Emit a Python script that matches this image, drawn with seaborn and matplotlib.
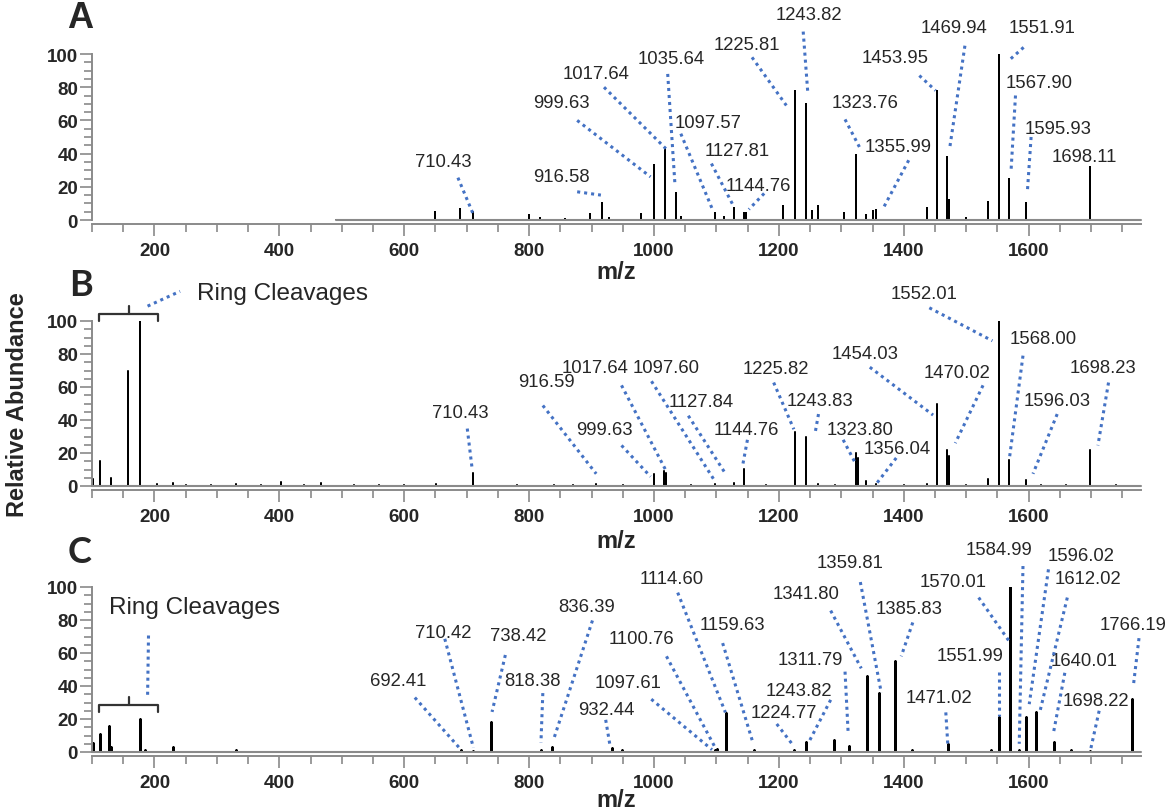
import pandas as pd
import seaborn as sns
import matplotlib.pyplot as plt
from matplotlib.ticker import MultipleLocator

sns.set_style("ticks")
plt.rcParams['font.family'] = ['Liberation Sans', 'DejaVu Sans']

# ---------------- data ----------------
x_major = [200, 400, 600, 800, 1000, 1200, 1400, 1600]
x_tick_labels = ['200', '400', '600', '800', '1000', '1200', '1400', '1600']
y_major = [0, 20, 40, 60, 80, 100]
y_tick_labels = ['0', '20', '40', '60', '80', '100']

# panel A peaks (m/z, relative abundance)
a_mz = [649, 690, 710.43, 800, 818, 857, 898, 916.58, 928, 980, 999.63, 1017.64,
        1035.64, 1043, 1097.57, 1112, 1127.81, 1144.76, 1147, 1207, 1225.81, 1243.82,
        1253, 1262, 1305, 1323.76, 1340, 1350, 1355.99, 1437, 1453.95, 1469.94, 1472,
        1500, 1535, 1551.91, 1567.90, 1595.93, 1698.11]
a_int = [4.8, 6.4, 5, 3, 1, 0.5, 3.4, 10.4, 1, 3.4, 33, 43,
         16, 2, 4, 2, 7, 4.5, 4, 8.5, 78, 70,
         5.6, 8.5, 4.4, 39, 3, 5.4, 6, 7, 78, 38, 12,
         1, 11, 100, 25, 10, 32]
a_labels = ['710.43', '916.58', '999.63', '1017.64', '1035.64', '1097.57', '1127.81',
            '1144.76', '1225.81', '1243.82', '1323.76', '1355.99', '1453.95', '1469.94',
            '1551.91', '1567.90', '1595.93', '1698.11']

# panel B peaks
b_mz = [102, 112.5, 130, 158.4, 177.4, 204, 230, 250, 290, 330, 370, 403, 440, 466,
        520, 560, 600, 651, 710.43, 780, 840, 870, 907, 950, 999.63, 1016.5, 1019.5,
        1060, 1097.60, 1127.84, 1144.76, 1180, 1225.82, 1243.83, 1262, 1290, 1323.80,
        1326, 1340, 1356.04, 1400, 1437, 1454.03, 1470.02, 1473, 1500, 1535, 1552.01,
        1568.00, 1596.03, 1620, 1660, 1698.23, 1740]
b_int = [4, 15, 5, 70, 100, 1, 2, 0.6, 0.6, 1.5, 0.6, 2.5, 0.6, 2,
         0.6, 0.6, 0.6, 1, 8, 0.6, 0.6, 0.6, 1, 0.6, 7, 9, 8,
         0.6, 1, 2, 10.5, 0.6, 33, 30, 1.5, 0.6, 20,
         17, 3.3, 1, 0.6, 1, 50, 22, 18, 0.6, 4.3, 100,
         15.5, 3.7, 0.6, 0.6, 22, 0.6]
b_labels = ['710.43', '916.59', '999.63', '1017.64', '1097.60', '1127.84', '1144.76',
            '1225.82', '1243.83', '1323.80', '1356.04', '1454.03', '1470.02', '1552.01',
            '1568.00', '1596.03', '1698.23']

# panel C peaks
c_mz = [102, 112.5, 127, 130, 177.4, 185, 230, 330, 690.5, 710.42, 738.42, 818.38,
        836.39, 932.44, 949, 1097.61, 1100.76, 1114.60, 1159.63, 1224.77, 1243.82, 1288,
        1311.79, 1341.80, 1359.81, 1385.83, 1414, 1471.02, 1540, 1551.99, 1570.01,
        1584.99, 1596.02, 1612.02, 1640.01, 1668, 1698.22, 1766.19]
c_int = [5.7, 11, 16, 3, 20, 1, 3, 1, 1, 0.8, 18, 1,
         3, 2.6, 1, 1, 2, 23.5, 1, 1, 6, 7,
         3.6, 46, 36, 55, 1, 5, 1, 21.5, 100,
         1, 21, 24.5, 6, 1, 0.8, 32]
c_labels = ['692.41', '710.42', '738.42', '818.38', '836.39', '932.44', '1097.61',
            '1100.76', '1114.60', '1159.63', '1224.77', '1243.82', '1311.79', '1341.80',
            '1359.81', '1385.83', '1471.02', '1551.99', '1570.01', '1584.99', '1596.02',
            '1612.02', '1640.01', '1698.22', '1766.19']

ring_text = 'Ring Cleavages'

# ---------------- layout of labels: text (x, y), leader (x0, y0) -> (x1, y1) ----------------
a_layout = [
    (663, 35, 686, 25.5, 710, 4),
    (852.6, 26, 877, 17, 915, 15),
    (852.6, 71, 877, 60, 994.5, 26),
    (907, 88, 920, 80, 1019, 43),
    (1028, 97, 1022, 88, 1033.5, 22),
    (1087, 59, 1043, 52, 1093, 7),
    (1133, 41.6, 1092, 34, 1126.6, 9),
    (1167, 21, 1176.5, 16, 1152, 6.4),
    (1148, 106, 1157, 98, 1212, 69),
    (1248, 123.5, 1239, 113.5, 1246.5, 76),
    (1338, 71, 1306, 60.6, 1329, 44),
    (1391, 44, 1408, 36, 1367, 7),
    (1386.5, 98, 1425, 87, 1451, 78),
    (1481, 116, 1498, 105, 1473.5, 43),
    (1621, 116, 1592, 104, 1568, 96),
    (1616.5, 83, 1579, 75, 1572, 30.5),
    (1647, 55, 1604, 50, 1598, 17),
    (1689.6, 38.5, None, None, None, None),
]
b_layout = [
    (690.5, 44.7, 701, 34.8, 709, 9.8),
    (828, 63.5, 822, 48.8, 907.5, 7.4),
    (921, 34.4, 948, 24.6, 994.5, 5.7),
    (905, 72, 948, 61, 1020, 8.8),
    (1020, 72, 996, 63.5, 1097, 3.3),
    (1075, 51, 1055, 42.6, 1114, 7.8),
    (1148, 34.4, 1149.7, 28, 1141.8, 12),
    (1195, 71, 1191.7, 62.7, 1224, 34.4),
    (1266.6, 52, 1263.5, 43.6, 1258.7, 33.4),
    (1330.5, 34.4, 1303, 28, 1321, 15),
    (1390, 23, 1388, 17, 1356.7, 1.6),
    (1338, 80.5, 1345.7, 72, 1447, 43),
    (1485.7, 69, 1527, 61, 1482.6, 26),
    (1432.7, 116.8, 1441, 108, 1542, 88),
    (1624, 89.3, 1591, 79, 1569, 16),
    (1645.8, 52, 1645.8, 43.6, 1607, 7.4),
    (1719, 71.7, 1728, 62.7, 1711, 24.6),
]
c_layout = [
    (590.8, 43.2, 617, 33, 690.5, 1.6),
    (663, 72.6, 665, 68.6, 710.8, 2.6),
    (782, 70.6, 762, 58.8, 740.7, 24.3),
    (805, 43.2, 822, 35.7, 819, 5.7),
    (892, 88.4, 901.5, 79.7, 839, 7.3),
    (923, 26, 922.7, 19.5, 930, 3),
    (958, 42.3, 995.7, 32, 1093, 1.4),
    (980.5, 69, 1020, 58, 1099, 2),
    (1029, 105, 1038, 96.6, 1114.4, 24),
    (1125, 77, 1110, 66, 1159, 5),
    (1207.5, 24, 1196.6, 17, 1221, 5),
    (1232, 37, 1283, 31.6, 1248, 6),
    (1250, 56, 1306, 48.7, 1311, 11.5),
    (1244, 96, 1283, 85.7, 1332, 50.7),
    (1313.5, 114.7, 1330.5, 103, 1364, 36),
    (1408.4, 87, 1414.5, 78.5, 1396, 58),
    (1457, 33, 1467.4, 24, 1470.5, 5),
    (1507, 58.4, 1552.6, 48.7, 1552.6, 22),
    (1479.6, 103.6, 1520, 93.6, 1568, 67.6),
    (1552.6, 122.7, 1591, 112.7, 1585, 5),
    (1684.7, 119.3, 1631.8, 110.7, 1601, 29),
    (1694.5, 105, 1662, 93.6, 1617.8, 24),
    (1689.6, 55.7, 1658, 48, 1640, 12),
    (1708, 31, 1713, 25, 1699, 1),
    (1767.6, 77.5, 1776.8, 69, 1767.6, 39.6),
]

BLUE = '#4472C4'
GREY = '#8a8a8a'
DOTS = (0, (1, 1.3))
W, H = 1176, 812


def stick_frame(mz, inten, start, end):
    rows = [(start, 0.0)]
    for m, h in sorted(zip(mz, inten)):
        rows += [(m, 0.0), (m, h), (m, 0.0)]
    rows.append((end, 0.0))
    return pd.DataFrame(rows, columns=['mz', 'ab'])


def style_axes(ax):
    ax.set_xlim(100, 1780)
    ax.set_ylim(0, 100)
    ax.set_facecolor('none')
    sns.despine(ax=ax)
    ax.spines['bottom'].set_position(('outward', 3))
    for s in ('left', 'bottom'):
        ax.spines[s].set_color(GREY)
        ax.spines[s].set_linewidth(1.4)
    ax.set_xticks(x_major)
    ax.set_xticklabels(x_tick_labels, fontweight='bold', fontsize=13.5)
    ax.xaxis.set_minor_locator(MultipleLocator(50))
    ax.set_yticks(y_major)
    ax.set_yticklabels(y_tick_labels, fontweight='bold', fontsize=13.5)
    ax.yaxis.set_minor_locator(MultipleLocator(5))
    ax.tick_params(which='major', length=8.5, width=1.2, color=GREY)
    ax.tick_params(which='minor', length=5.5, width=1.2, color=GREY)
    ax.tick_params(axis='y', which='major', pad=1.5)
    ax.tick_params(axis='x', which='major', pad=4)
    ax.set_xlabel('')
    ax.set_ylabel('')


def draw_panel(ax, mz, inten, start, lw, labels, layout, mz_y):
    df = stick_frame(mz, inten, start, 1780)
    sns.lineplot(data=df, x='mz', y='ab', sort=False, estimator=None,
                 color='black', linewidth=lw, ax=ax)
    ax.plot([start, 1780], [0, 0], color=GREY, lw=1.5, clip_on=False, zorder=3)
    style_axes(ax)
    for lab, (tx, ty, x0, y0, x1, y1) in zip(labels, layout):
        ax.text(tx, ty, lab, ha='center', va='center', fontsize=13.3)
        if x0 is not None:
            ax.plot([x0, x1], [y0, y1], color=BLUE, lw=2.2, ls=DOTS,
                    clip_on=False, zorder=4)
    ax.text(0.5, mz_y, 'm/z', transform=ax.transAxes, ha='center', va='center',
            fontsize=17, fontweight='bold')


def bracket(ax, xl, xr, yh, yend, ynotch):
    xm = (xl + xr) / 2
    ax.plot([xl, xl, xr, xr], [yend, yh, yh, yend], color='#333333', lw=1.6,
            clip_on=False, solid_joinstyle='round')
    ax.plot([xm, xm], [yh, ynotch], color='#333333', lw=1.6, clip_on=False)


fig = plt.figure(figsize=(W / 100, H / 100), dpi=100)
left, width = 92 / W, (1141 - 92) / W
ax_a = fig.add_axes([left, 1 - 221 / H, width, 166 / H])
ax_b = fig.add_axes([left, 1 - 487 / H, width, 165 / H])
ax_c = fig.add_axes([left, 1 - 753 / H, width, 165 / H])

draw_panel(ax_a, a_mz, a_int, 490, 1.3, a_labels, a_layout, -0.31)
draw_panel(ax_b, b_mz, b_int, 100, 1.1, b_labels, b_layout, -0.33)
draw_panel(ax_c, c_mz, c_int, 100, 1.8, c_labels, c_layout, -0.29)

# ring cleavage annotations
bracket(ax_b, 111, 206, 104.5, 100, 109)
ax_b.plot([189, 241], [109, 118], color=BLUE, lw=2.2, ls=DOTS, clip_on=False)
ax_b.text(268.5, 117, ring_text, ha='left', va='center', fontsize=17.5)

bracket(ax_c, 111.5, 206, 28.7, 24, 33.5)
ax_c.plot([190.5, 189], [70.6, 33.3], color=BLUE, lw=2.2, ls=DOTS, clip_on=False)
ax_c.text(126.6, 87.8, ring_text, ha='left', va='center', fontsize=17.5)

# panel letters and shared y label
fig.text(80 / W, 1 - 19 / H, 'A', fontsize=26, fontweight='bold', ha='center', va='center')
fig.text(81 / W, 1 - 286 / H, 'B', fontsize=26, fontweight='bold', ha='center', va='center',
         family=['Lato', 'DejaVu Sans'])
fig.text(80 / W, 1 - 553 / H, 'C', fontsize=26, fontweight='bold', ha='center', va='center',
         family=['Lato', 'DejaVu Sans'])
fig.text(18 / W, 1 - 405 / H, 'Relative Abundance', rotation=90, ha='center', va='center',
         fontsize=17, fontweight='bold')

fig.savefig('out.png', dpi=100)
